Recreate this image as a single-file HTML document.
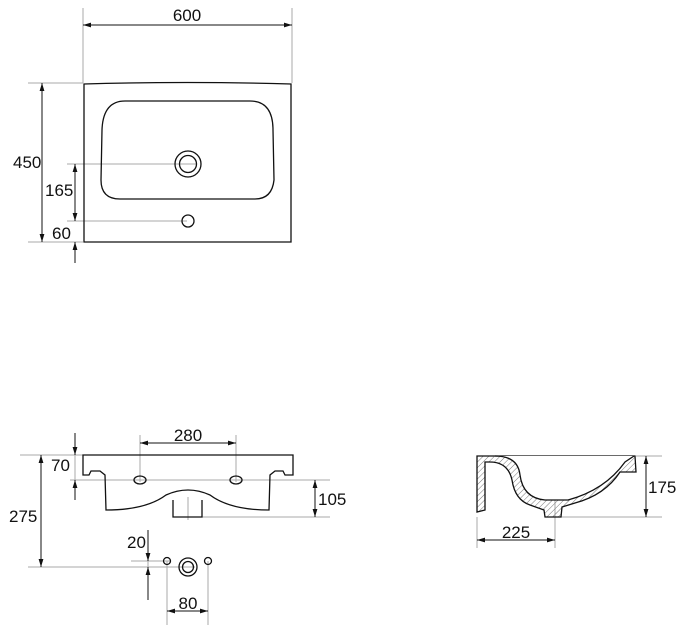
<!DOCTYPE html>
<html><head><style>body{margin:0;background:#fff}svg{display:block}</style></head><body>
<svg width="682" height="630" viewBox="0 0 682 630" xmlns="http://www.w3.org/2000/svg" font-family="Liberation Sans, sans-serif" font-size="17" fill="none">
<defs>
<marker id="a" viewBox="0 0 10 10" refX="10" refY="5" markerWidth="8" markerHeight="8" orient="auto-start-reverse"><path d="M0,2 L10,5 L0,8z" fill="#111"/></marker>
<pattern id="h" width="4" height="4" patternUnits="userSpaceOnUse" patternTransform="rotate(45)"><line x1="0" y1="0" x2="0" y2="4" stroke="#777" stroke-width="1"/></pattern>
</defs>
<g stroke="#aaa" stroke-width="1">
<line x1="83" y1="8" x2="83" y2="83"/><line x1="292" y1="8" x2="292" y2="83"/>
<line x1="28" y1="83" x2="83" y2="83"/><line x1="28" y1="242" x2="83" y2="242"/>
<line x1="67" y1="164" x2="197" y2="164"/><line x1="67" y1="221" x2="187" y2="221"/>
<line x1="75" y1="242" x2="75" y2="263"/>
<line x1="140" y1="435" x2="140" y2="482"/><line x1="236" y1="435" x2="236" y2="482"/>
<line x1="75" y1="433" x2="75" y2="500"/>
<line x1="20" y1="455" x2="83" y2="455"/><line x1="70" y1="480" x2="330" y2="480"/>
<line x1="200" y1="517" x2="330" y2="517"/><line x1="188" y1="497" x2="188" y2="520"/>
<line x1="28" y1="567" x2="195" y2="567"/><line x1="131" y1="561" x2="170" y2="561"/>
<line x1="148" y1="530" x2="148" y2="600"/>
<line x1="167" y1="561" x2="167" y2="625"/><line x1="208" y1="561" x2="208" y2="625"/>
<line x1="636" y1="456" x2="662" y2="456"/><line x1="560" y1="517" x2="662" y2="517"/>
<line x1="477" y1="517" x2="477" y2="548"/><line x1="555" y1="497" x2="555" y2="548"/>
</g>
<g stroke="#111" stroke-width="1" marker-start="url(#a)" marker-end="url(#a)">
<line x1="83" y1="25" x2="292" y2="25"/>
<line x1="42" y1="83" x2="42" y2="242"/>
<line x1="140" y1="443" x2="236" y2="443"/>
<line x1="41" y1="455" x2="41" y2="567"/>
<line x1="315" y1="480" x2="315" y2="517"/>
<line x1="646" y1="456" x2="646" y2="517"/>
<line x1="477" y1="540" x2="555" y2="540"/>
<line x1="167" y1="611" x2="208" y2="611"/>
</g>
<g stroke="#111" stroke-width="1">
<line x1="75" y1="164" x2="75" y2="221" marker-start="url(#a)" marker-end="url(#a)"/>
<line x1="75" y1="263" x2="75" y2="242" marker-end="url(#a)"/>
<line x1="75" y1="433" x2="75" y2="455" marker-end="url(#a)"/>
<line x1="75" y1="500" x2="75" y2="480" marker-end="url(#a)"/>
<line x1="148" y1="530" x2="148" y2="561" marker-end="url(#a)"/>
<line x1="148" y1="600" x2="148" y2="567" marker-end="url(#a)"/>
</g>
<g stroke="#111" stroke-width="1.3">
<path d="M84,84 Q187,81 291,84 L291,242 L84,242Z"/>
<path d="M125,101 L250,101 Q273,101 273,130 L274,180 Q272,199 255,199 L120,199 Q101,199 101,180 L102,130 Q103,101 125,101Z"/>
<circle cx="188" cy="164" r="13"/><circle cx="188" cy="164" r="8.5"/>
<circle cx="188" cy="221" r="6"/>
<path d="M83,455 L293,455 L293,475 L285,475 L283,471 L275,471 L270,475 L269,510 Q230,510 210,495 Q188,485 166,495 Q146,510 106,510 L105,475 L100,471 L91,471 L89,475 L83,475Z"/>
<path d="M173,500 L173,517 L202,517 L202,500"/>
<ellipse cx="140" cy="480" rx="6" ry="4"/><ellipse cx="236" cy="480" rx="6" ry="4"/>
<circle cx="167" cy="561" r="3.5"/><circle cx="208" cy="561" r="3.5"/>
<circle cx="188" cy="567" r="9"/><circle cx="188" cy="567" r="5.5"/>
<path d="M477,456 L635,456 L636,472 L620,472 Q605,495 575,503 L562,507 L561,517 L545,517 L544,510 L530,505 Q515,500 512,480 Q508,462 490,462 L485,462 L485,510 L477,512Z" fill="url(#h)"/>
<path d="M495,456 Q518,456 520,475 Q523,498 545,500 L568,500 Q605,490 625,462 L634,456" fill="#fff"/>
</g>
<g fill="#111">
<text x="187" y="21" text-anchor="middle">600</text>
<text x="13" y="168">450</text>
<text x="45" y="196">165</text>
<text x="52" y="239">60</text>
<text x="188" y="441" text-anchor="middle">280</text>
<text x="51" y="471">70</text>
<text x="318" y="505">105</text>
<text x="9" y="522">275</text>
<text x="127" y="548">20</text>
<text x="188" y="609" text-anchor="middle">80</text>
<text x="648" y="493">175</text>
<text x="516" y="538" text-anchor="middle">225</text>
</g>
</svg>
</body></html>
